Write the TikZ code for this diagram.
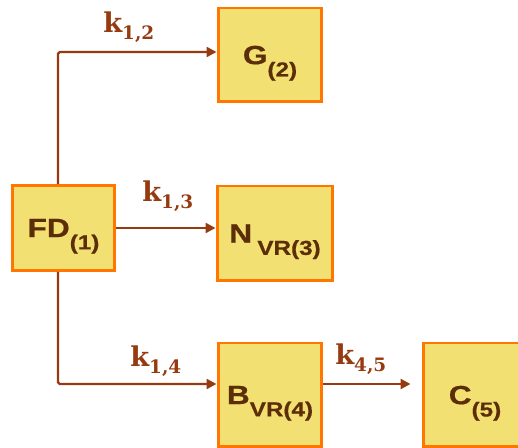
\documentclass[tikz,border=0pt]{standalone}
\usepackage{fontspec}
\usetikzlibrary{arrows.meta}

\newfontfamily\boxfont[FakeStretch=1.2, FakeBold=0.6]{Liberation Sans}
\newfontfamily\ratefont{DejaVu Serif}

\definecolor{boxfill}{RGB}{242,224,115}
\definecolor{boxline}{RGB}{255,118,0}
\definecolor{boxtext}{RGB}{92,46,8}
\definecolor{flow}{RGB}{150,58,15}

% compartment name with lowered index
\newcommand{\comp}[2]{%
  {\fontsize{15}{15}\selectfont #1}%
  \raisebox{-7pt}{\fontsize{11.5}{11.5}\selectfont #2}}
% transfer rate k_{i,j}
\newcommand{\rate}[1]{%
  {\fontsize{15.5}{15.5}\selectfont k}%
  \raisebox{-3.5pt}{\fontsize{10.5}{10.5}\selectfont #1}}

\begin{document}
\begin{tikzpicture}[
  x=0.02cm, y=-0.02cm,
  compbox/.style={draw=boxline, fill=boxfill, line width=1.7pt,
    inner sep=0pt, text depth=0pt, text=boxtext,
    font=\boxfont\bfseries},
  ratelbl/.style={anchor=base west, inner sep=0pt, text=flow,
    font=\ratefont\bfseries},
  flowline/.style={draw=flow, line width=1.3pt, rounded corners=1pt,
    -{Triangle[length=0.2cm, width=0.2cm]}},
]
  \useasboundingbox (0,0) rectangle (518,448);
  \clip (0,0) rectangle (518,448);

  % Compartments
  \node[compbox, minimum width=2.06cm, minimum height=1.70cm]
    (fd) at (63.5,228) {\comp{FD}{(1)}};
  \node[compbox, minimum width=2.08cm, minimum height=1.88cm]
    (g) at (270,55) {\comp{G}{(2)}};
  \node[compbox, minimum width=2.32cm, minimum height=1.90cm]
    (n) at (275,233.5) {\comp{N}{\kern3pt VR(3)}};
  \node[compbox, minimum width=2.08cm, minimum height=2.08cm]
    (b) at (270,395) {\comp{B}{VR(4)}};
  \node[compbox, minimum width=2.08cm, minimum height=2.08cm]
    (c) at (475,395) {\comp{C}{(5)}};

  % Transfers
  \draw[flowline] ([xshift=-0.11cm]fd.north) |- ([yshift=0.06cm]g.west);
  \draw[flowline] (fd.east) -- (fd.east -| n.west);
  \draw[flowline] ([xshift=-0.11cm]fd.south) |- ([yshift=0.22cm]b.west);
  \draw[flowline, shorten >=0.22cm] ([yshift=0.22cm]b.east)
    -- ([yshift=0.22cm]c.west);

  % Rate labels
  \node[ratelbl] (k12) at (103,33)  {\rate{1,2}};
  \node[ratelbl] (k13) at (142,202) {\rate{1,3}};
  \node[ratelbl] (k14) at (130,367) {\rate{1,4}};
  \node[ratelbl] (k45) at (335,365) {\rate{4,5}};

\end{tikzpicture}
\end{document}
